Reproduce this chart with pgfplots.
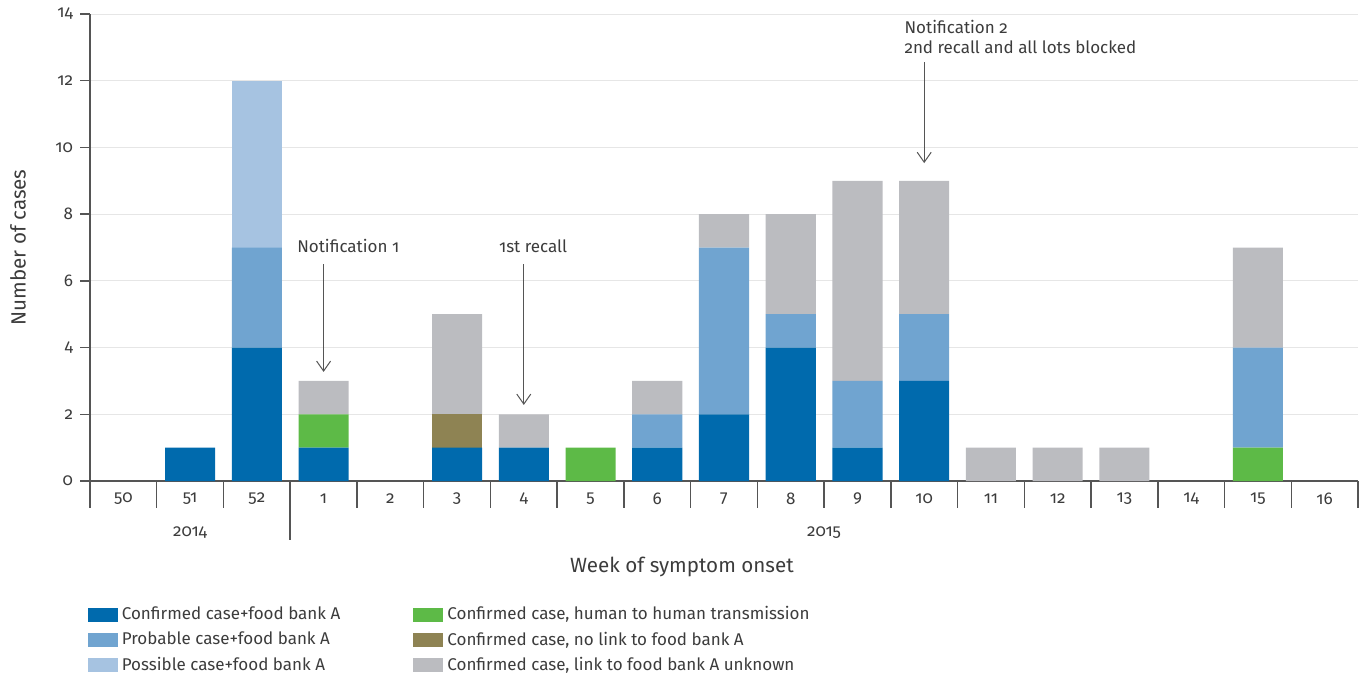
\documentclass[border=0pt]{standalone}
\usepackage{fontspec}
\setmainfont[Numbers=OldStyle]{Fira Sans}
\usepackage{pgfplots}
\usepackage{pgfplotstable}
\pgfplotsset{compat=1.18}
\usetikzlibrary{arrows.meta}

\definecolor{conf}{HTML}{006AAD}
\definecolor{prob}{HTML}{70A4D0}
\definecolor{poss}{HTML}{A6C3E1}
\definecolor{human}{HTML}{5DBA47}
\definecolor{nolink}{HTML}{8E8353}
\definecolor{unk}{HTML}{BBBCC0}
\definecolor{txt}{HTML}{3C3C3C}
\definecolor{axg}{HTML}{555555}
\definecolor{grd}{HTML}{E6E6E6}

% x: 0=wk50 2014 ... 3=wk1 2015 ... 18=wk16
\pgfplotstableread{
x  conf human nolink prob poss unk
0  0 0 0 0 0 0
1  1 0 0 0 0 0
2  4 0 0 3 5 0
3  1 1 0 0 0 1
4  0 0 0 0 0 0
5  1 0 1 0 0 3
6  1 0 0 0 0 1
7  0 1 0 0 0 0
8  1 0 0 1 0 1
9  2 0 0 5 0 1
10 4 0 0 1 0 3
11 1 0 0 2 0 6
12 3 0 0 2 0 4
13 0 0 0 0 0 1
14 0 0 0 0 0 1
15 0 0 0 0 0 1
16 0 0 0 0 0 0
17 0 1 0 3 0 3
18 0 0 0 0 0 0
}\cases

\begin{document}
\begin{tikzpicture}
\useasboundingbox (-45pt,-97pt) rectangle (638.5pt,240.5pt);
\begin{axis}[
  at={(0,0)}, anchor=south west,
  scale only axis, width=634pt, height=233.5pt,
  ybar stacked, bar width=0.75,
  xmin=-0.5, xmax=18.5, ymin=0, ymax=14,
  xtick={0,...,18},
  xticklabels={50,51,52,1,2,3,4,5,6,7,8,9,10,11,12,13,14,15,16},
  ytick={0,2,...,14},
  axis x line=bottom, axis y line=left,
  axis line style={-, draw=axg, line width=0.75pt},
  xtick style={draw=none},
  ytick style={draw=axg, line width=0.75pt},
  tick align=outside, major tick length=5pt,
  ymajorgrids, grid style={grd, line width=0.5pt},
  /pgf/number format/assume math mode=true,
  tick label style={font=\fontsize{8.5}{10}\selectfont, text=txt},
  xticklabel style={anchor=center, yshift=-4pt},
  clip=false,
  legend columns=2,
  legend cell align=left,
  legend image code/.code={\fill[#1, draw=none] (0pt,-3.5pt) rectangle (15pt,3.5pt);},
  legend style={at={(rel axis cs:-0.002,-0.2593)}, anchor=north west,
    draw=none, fill=none, inner sep=0pt,
    font=\fontsize{8.5}{10}\selectfont, text=txt,
    row sep=0.5pt,
    /tikz/every even column/.append style={column sep=34.5pt}},
]
\addplot[forget plot, fill=conf, draw=none] table[x=x, y=conf] {\cases};
\addplot[forget plot, fill=human, draw=none] table[x=x, y=human] {\cases};
\addplot[forget plot, fill=nolink, draw=none] table[x=x, y=nolink] {\cases};
\addplot[forget plot, fill=prob, draw=none] table[x=x, y=prob] {\cases};
\addplot[forget plot, fill=poss, draw=none] table[x=x, y=poss] {\cases};
\addplot[forget plot, fill=unk, draw=none] table[x=x, y=unk] {\cases};

\addlegendimage{fill=conf}
\addlegendentry{Confirmed case+food bank A}
\addlegendimage{fill=human}
\addlegendentry{Confirmed case, human to human transmission}
\addlegendimage{fill=prob}
\addlegendentry{Probable case+food bank A}
\addlegendimage{fill=nolink}
\addlegendentry{Confirmed case, no link to food bank A}
\addlegendimage{fill=poss}
\addlegendentry{Possible case+food bank A}
\addlegendimage{fill=unk}
\addlegendentry{Confirmed case, link to food bank A unknown}

% week separators below the axis
\pgfplotsinvokeforeach{0,...,19}{
  \draw[axg, line width=0.75pt] (axis cs:#1-0.5,0) -- ([yshift=-13.5pt]axis cs:#1-0.5,0);
}
\draw[axg, line width=0.75pt] (axis cs:2.5,0) -- ([yshift=-29.5pt]axis cs:2.5,0);

\node[font=\fontsize{8.5}{10}\selectfont, text=txt] at ([yshift=-26pt]axis cs:1,0) {2014};
\node[font=\fontsize{8.5}{10}\selectfont, text=txt] at ([yshift=-26pt]axis cs:10.5,0) {2015};
\node[font=\fontsize{10.3}{12}\selectfont, text=txt] at ([yshift=-43pt]axis cs:8.37,0) {Week of symptom onset};
\node[font=\fontsize{10.3}{12}\selectfont, text=txt, rotate=90] at ([xshift=-36pt]rel axis cs:0,0.5) {Number of cases};

% annotations
\tikzset{ann/.style={axg, line width=0.5pt, -{Straight Barb[length=5pt,width=7pt]}}}
\draw[ann] (axis cs:3,6.5) -- (axis cs:3,3.27);
\node[font=\fontsize{8.5}{10}\selectfont, text=txt] at (axis cs:3.37,7.04) {Notification 1};
\draw[ann] (axis cs:6,6.5) -- (axis cs:6,2.28);
\node[font=\fontsize{8.5}{10}\selectfont, text=txt] at (axis cs:6.14,7.04) {1st recall};
\draw[ann] (axis cs:12,12.56) -- (axis cs:12,9.53);
\node[font=\fontsize{8.5}{10}\selectfont, text=txt, anchor=west, align=left] at (axis cs:11.6,13.31) {Notification 2\\2nd recall and all lots blocked};
\end{axis}
\end{tikzpicture}
\end{document}
